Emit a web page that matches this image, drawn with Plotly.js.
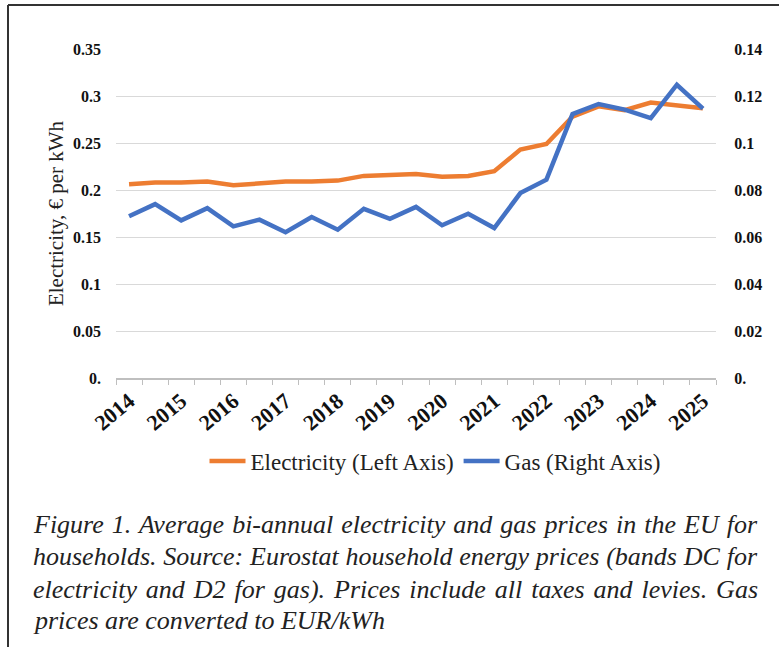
<!DOCTYPE html>
<html>
<head>
<meta charset="utf-8">
<script src="https://cdn.plot.ly/plotly-3.0.1.min.js"></script>
<style>
  html, body { margin: 0; padding: 0; background: #fff; }
  #chart { width: 779px; height: 647px; }
</style>
</head>
<body>
<div id="chart"></div>
<script>
// ---- data ----
const periods = ['2014-S1','2014-S2','2015-S1','2015-S2','2016-S1','2016-S2','2017-S1','2017-S2',
  '2018-S1','2018-S2','2019-S1','2019-S2','2020-S1','2020-S2','2021-S1','2021-S2',
  '2022-S1','2022-S2','2023-S1','2023-S2','2024-S1','2024-S2','2025-S1'];
const periodLabels = ['2014','','2015','','2016','','2017','','2018','','2019','',
  '2020','','2021','','2022','','2023','','2024','','2025'];
const electricity = [0.206,0.208,0.208,0.209,0.205,0.207,0.209,0.209,0.210,0.215,0.216,0.217,
  0.214,0.215,0.220,0.243,0.249,0.278,0.289,0.285,0.293,0.290,0.287];
const gas = [0.0688,0.0740,0.0671,0.0723,0.0645,0.0674,0.0620,0.0685,0.0631,0.0720,0.0677,0.0728,
  0.0650,0.0699,0.0638,0.0787,0.0844,0.1123,0.1166,0.1142,0.1106,0.1248,0.1146];
const leftTicks = [0,0.05,0.1,0.15,0.2,0.25,0.3,0.35];
const leftTickText = ['0.','0.05','0.1','0.15','0.2','0.25','0.3','0.35'];
const rightTicks = [0,0.02,0.04,0.06,0.08,0.1,0.12,0.14];
const rightTickText = ['0.','0.02','0.04','0.06','0.08','0.1','0.12','0.14'];
const captionLines = [
  'Figure 1. Average bi-annual electricity and gas prices in the EU for',
  'households. Source: Eurostat household energy prices (bands DC for',
  'electricity and D2 for gas). Prices include all taxes and levies. Gas',
  'prices are converted to EUR/kWh'
];

// ---- layout helpers (pixel -> paper) ----
const W = 779, H = 647, ML = 116, MR = 63, MT = 49, MB = 269;
const PW = W - ML - MR, PH = H - MT - MB;
const px2x = p => (p - ML) / PW;
const px2y = p => (H - MB - p) / PH;

const serif = "'Liberation Serif', 'Times New Roman', serif";

const traces = [
  { x: periods, y: electricity, type: 'scatter', mode: 'lines', name: 'Electricity (Left Axis)',
    line: { color: '#ED7D31', width: 4.5 }, yaxis: 'y' },
  { x: periods, y: gas, type: 'scatter', mode: 'lines', name: 'Gas (Right Axis)',
    line: { color: '#4472C4', width: 4.5 }, yaxis: 'y2' }
];

const captionY = [524, 556, 589, 620];
const captionLeft = 32, captionRight = 757;
const annotations = captionLines.map((t, i) => ({
  xref: 'paper', yref: 'paper', x: px2x(captionLeft), y: px2y(captionY[i]),
  xanchor: 'left', yanchor: 'middle', align: 'left', showarrow: false, borderpad: 0,
  text: '<i>' + t + '</i>',
  font: { family: serif, size: 26, color: '#222' }
}));

const layout = {
  width: W, height: H,
  margin: { l: ML, r: MR, t: MT, b: MB },
  paper_bgcolor: '#fff', plot_bgcolor: '#fff',
  showlegend: true,
  legend: { orientation: 'h', x: px2x(435), xanchor: 'center', y: px2y(461), yanchor: 'middle',
    font: { family: serif, size: 23, color: '#222' }, traceorder: 'normal', itemwidth: 36 },
  xaxis: {
    type: 'category', tickmode: 'array', tickvals: periods, ticktext: periodLabels,
    tickson: 'boundaries', ticks: 'outside', ticklen: 5, tickcolor: '#bfbfbf', tickwidth: 1,
    showline: true, linecolor: '#bfbfbf', linewidth: 1.5, showgrid: false,
    tickangle: -40, tickfont: { family: serif, size: 22, color: '#111', weight: 'bold' },
    range: [-0.5, periods.length - 0.5], fixedrange: true
  },
  yaxis: {
    range: [0, 0.35], tickmode: 'array', tickvals: leftTicks, ticktext: leftTickText,
    showgrid: true, gridcolor: '#d9d9d9', gridwidth: 1, zeroline: false, showline: false,
    ticks: '', ticklabelstandoff: 14,
    tickfont: { family: serif, size: 16, color: '#111', weight: 'bold' },
    title: { text: 'Electricity, € per kWh', font: { family: serif, size: 21, color: '#222' }, standoff: 3 }
  },
  yaxis2: {
    overlaying: 'y', side: 'right', range: [0, 0.14], tickmode: 'array', tickvals: rightTicks,
    ticktext: rightTickText, showgrid: false, zeroline: false, showline: false,
    ticks: 'outside', ticklen: 14, tickcolor: 'rgba(0,0,0,0)',
    tickfont: { family: serif, size: 16, color: '#111', weight: 'bold' }
  },
  annotations: annotations,
  shapes: [
    { type: 'line', xref: 'paper', yref: 'paper', x0: px2x(8), x1: px2x(W + 2), y0: px2y(5), y1: px2y(5),
      line: { color: '#333', width: 2 } },
    { type: 'line', xref: 'paper', yref: 'paper', x0: px2x(8), x1: px2x(8), y0: px2y(5), y1: px2y(H + 2),
      line: { color: '#333', width: 2 } }
  ]
};

Plotly.newPlot('chart', traces, layout, { displayModeBar: false, staticPlot: true }).then(gd => {
  // justify the caption lines (all but the last) like the original figure caption
  const texts = gd.querySelectorAll('.annotation-text');
  texts.forEach((el, i) => {
    if (i >= captionLines.length - 1) return;
    const spaces = (captionLines[i].match(/ /g) || []).length;
    const bb = el.getBBox();
    const extra = (captionRight - captionLeft) - bb.width;
    if (spaces > 0 && extra > 0) {
      const ws = extra / spaces;
      el.setAttribute('text-anchor', 'start');
      el.style.textAnchor = 'start';
      el.style.wordSpacing = ws + 'px';
      // keep the left edge where it was before the spacing change
      const bb2 = el.getBBox();
      const dx = bb.x - bb2.x;
      if (Math.abs(dx) > 0.5) {
        const x0 = parseFloat(el.getAttribute('x')) || 0;
        el.setAttribute('x', x0 + dx);
        el.querySelectorAll('tspan').forEach(s => {
          if (s.hasAttribute('x')) s.setAttribute('x', (parseFloat(s.getAttribute('x')) || 0) + dx);
        });
      }
    }
  });
});
</script>
</body>
</html>
